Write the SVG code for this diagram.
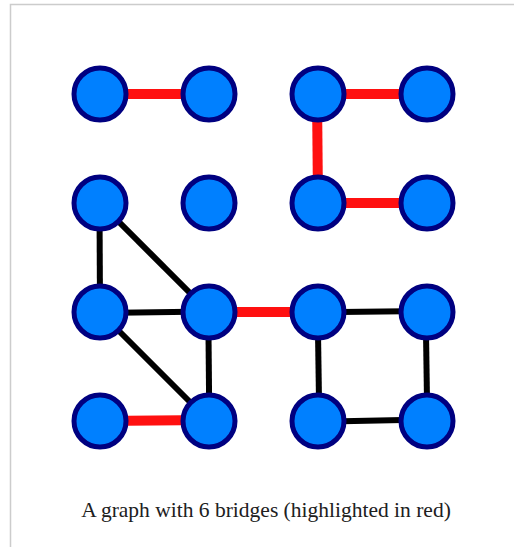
<svg xmlns="http://www.w3.org/2000/svg" width="514" height="547" viewBox="0 0 514 547">
<style>
.frame{fill:none;stroke:#cccccc;stroke-width:1.5}
.bridge{stroke:#ff1010;stroke-width:10;stroke-linecap:butt;fill:none}
.edge{stroke:#000;stroke-width:6;stroke-linecap:butt;fill:none}
.node{fill:#0080ff;stroke:#000080;stroke-width:5}
.caption{font-family:"Liberation Serif","Times New Roman",serif;font-size:21.5px;fill:#202020}
</style>
<rect width="514" height="547" fill="#fff"/>
<path class="frame" d="M10.5,547 V4.5 H514"/>
<g id="connectors">
<line class="bridge" x1="100" y1="94" x2="209" y2="94"/>
<line class="bridge" x1="318" y1="94" x2="427" y2="94"/>
<line class="bridge" x1="317" y1="94" x2="318" y2="203"/>
<line class="bridge" x1="318" y1="203" x2="427" y2="203"/>
<line class="bridge" x1="209" y1="312" x2="318" y2="312"/>
<line class="bridge" x1="100" y1="421" x2="209" y2="420"/>
<line class="edge" x1="99.5" y1="203" x2="100" y2="312"/>
<line class="edge" x1="100" y1="203" x2="209" y2="312"/>
<line class="edge" x1="100" y1="313" x2="209" y2="311.5"/>
<line class="edge" x1="100" y1="312" x2="209" y2="421"/>
<line class="edge" x1="208.3" y1="312" x2="209.3" y2="421"/>
<line class="edge" x1="318" y1="312.3" x2="427" y2="311"/>
<line class="edge" x1="317.7" y1="312" x2="319.3" y2="421"/>
<line class="edge" x1="425.7" y1="312" x2="427.3" y2="421"/>
<line class="edge" x1="318" y1="421.7" x2="427" y2="419.5"/>
</g>
<g id="n1"><circle class="node" cx="100" cy="94" r="26"/></g>
<g id="n2"><circle class="node" cx="209" cy="94" r="26"/></g>
<g id="n3"><circle class="node" cx="318" cy="94" r="26"/></g>
<g id="n4"><circle class="node" cx="427" cy="94" r="26"/></g>
<g id="n5"><circle class="node" cx="100" cy="203" r="26"/></g>
<g id="n6"><circle class="node" cx="209" cy="203" r="26"/></g>
<g id="n7"><circle class="node" cx="318" cy="203" r="26"/></g>
<g id="n8"><circle class="node" cx="427" cy="203" r="26"/></g>
<g id="n9"><circle class="node" cx="100" cy="312" r="26"/></g>
<g id="n10"><circle class="node" cx="209" cy="312" r="26"/></g>
<g id="n11"><circle class="node" cx="318" cy="312" r="26"/></g>
<g id="n12"><circle class="node" cx="427" cy="312" r="26"/></g>
<g id="n13"><circle class="node" cx="100" cy="421" r="26"/></g>
<g id="n14"><circle class="node" cx="209" cy="421" r="26"/></g>
<g id="n15"><circle class="node" cx="318" cy="421" r="26"/></g>
<g id="n16"><circle class="node" cx="427" cy="421" r="26"/></g>
<text class="caption" x="266" y="517" text-anchor="middle">A graph with 6 bridges (highlighted in red)</text>
</svg>
